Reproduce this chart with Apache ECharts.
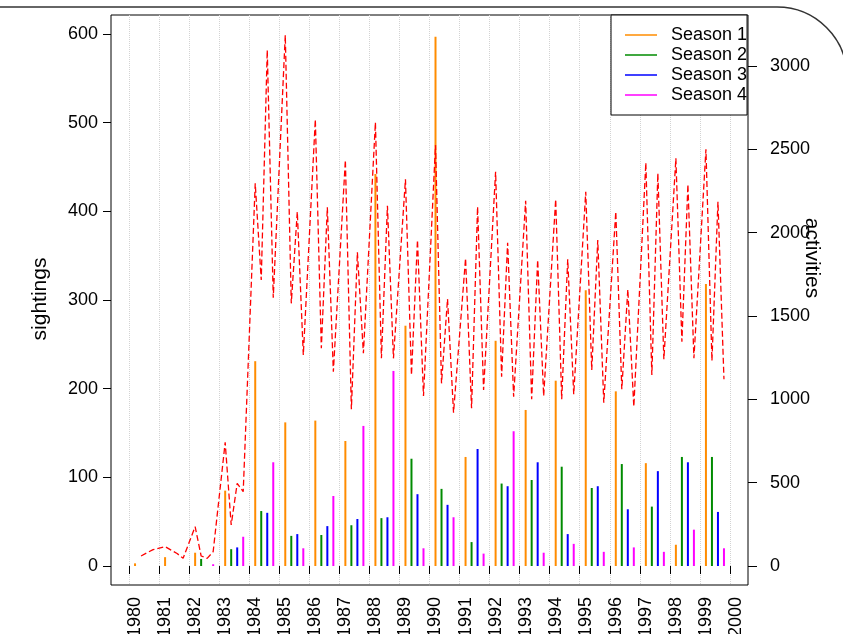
<!DOCTYPE html>
<html>
<head>
<meta charset="utf-8">
<script src="https://cdn.jsdelivr.net/npm/echarts@6/dist/echarts.min.js"></script>
<style>
  html, body { margin: 0; padding: 0; background: #fff; }
  #chart { width: 843px; height: 634px; }
</style>
</head>
<body>
<div id="chart"></div>
<script>
// Years on the time axis and the offset of each season inside a year
const years = [1980,1981,1982,1983,1984,1985,1986,1987,1988,1989,
               1990,1991,1992,1993,1994,1995,1996,1997,1998,1999];
const yearTicks = [1980,1981,1982,1983,1984,1985,1986,1987,1988,1989,1990,
                   1991,1992,1993,1994,1995,1996,1997,1998,1999,2000];
const seasonOffsets = [0.2, 0.4, 0.6, 0.8];
const seasonNames = ['Season 1', 'Season 2', 'Season 3', 'Season 4'];

// Sightings per season, one value per year
const sightingsS1 = [3, 10, 15, 85, 231, 162, 164, 141, 442, 271,
                     597, 123, 254, 176, 209, 311, 197, 116, 24, 318];
const sightingsS2 = [0, 0, 8, 19, 62, 34, 35, 46, 54, 121,
                     87, 27, 93, 97, 112, 88, 115, 67, 123, 123];
const sightingsS3 = [0, 0, 0, 21, 60, 36, 45, 53, 55, 81,
                     69, 132, 90, 117, 36, 90, 64, 107, 117, 61];
const sightingsS4 = [0, 0, 2, 33, 117, 20, 79, 158, 220, 20,
                     55, 14, 152, 15, 25, 16, 21, 16, 41, 20];

// Activities per season (S1..S4 for each year)
const activities = [
  null, 60, 80, 98,
  116, 95, 75, 46,
  236, 60, 46, 86,
  742, 246, 496, 446,
  2296, 1716, 3096, 1610,
  3186, 1576, 2126, 1266,
  2680, 1306, 2152, 1166,
  2436, 940, 1882, 1276,
  2662, 1246, 2162, 1246,
  2320, 1146, 1956, 1020,
  2526, 1096, 1602, 920,
  1846, 946, 2156, 1056,
  2366, 1136, 1940, 1016,
  2192, 1000, 1836, 1020,
  2200, 1000, 1840, 1030,
  2246, 1176, 1956, 980,
  2126, 1060, 1660, 956,
  2420, 1146, 2356, 1240,
  2446, 1346, 2290, 1246,
  2500, 1232, 2186, 1120
];

const sightingTicks = [0, 100, 200, 300, 400, 500, 600];
const activityTicks = [0, 500, 1000, 1500, 2000, 2500, 3000];

const seasonColors = ['#FF8C00', '#008B00', '#0000FF', '#FF00FF'];
const FONT = '"Liberation Sans", Arial, Helvetica, sans-serif';

const sightingSeries = [sightingsS1, sightingsS2, sightingsS3, sightingsS4];

const series = sightingSeries.map((vals, s) => ({
  name: seasonNames[s],
  type: 'bar',
  xAxisIndex: 0,
  yAxisIndex: 0,
  barWidth: 2,
  barGap: '-100%',
  itemStyle: { color: seasonColors[s] },
  data: years.map((y, i) => [y + seasonOffsets[s], vals[i]])
}));

const activityData = [];
years.forEach((y, i) => {
  seasonOffsets.forEach((off, s) => {
    activityData.push([y + off, activities[i * 4 + s]]);
  });
});

series.push({
  name: 'activities',
  type: 'line',
  xAxisIndex: 0,
  yAxisIndex: 1,
  showSymbol: false,
  connectNulls: false,
  lineStyle: { color: '#FF0000', width: 1.3, type: [6, 3] },
  data: activityData,
  z: 4
});

const plain = v => String(v);

const chart = echarts.init(document.getElementById('chart'), null, { renderer: 'canvas' });

chart.setOption({
  animation: false,
  backgroundColor: '#fff',
  textStyle: { fontFamily: FONT, color: '#000' },
  grid: {
    left: 111, top: 15, right: 95, bottom: 49,
    outerBoundsMode: 'none',
    containLabel: false,
    show: true, borderColor: '#000', borderWidth: 1, backgroundColor: 'transparent'
  },
  xAxis: {
    type: 'value',
    min: 1979.4, max: 2000.6,
    axisLine: { show: false },
    axisTick: { show: true, length: 8, customValues: yearTicks, lineStyle: { color: '#000' } },
    axisLabel: {
      customValues: yearTicks, rotate: 90, margin: 12,
      fontSize: 18, fontFamily: FONT, color: '#000',
      verticalAlign: 'top', lineHeight: 12,
      formatter: plain
    },
    splitLine: { show: true, lineStyle: { color: '#d3d3d3', type: 'dotted', width: 1 } }
  },
  yAxis: [
    {
      type: 'value',
      position: 'left',
      min: -21.4, max: 621.4,
      axisLine: { show: false },
      axisTick: { show: true, length: 8, customValues: sightingTicks, lineStyle: { color: '#000' } },
      axisLabel: { customValues: sightingTicks, margin: 13, fontSize: 18, fontFamily: FONT, color: '#000', formatter: plain },
      splitLine: { show: false }
    },
    {
      type: 'value',
      position: 'right',
      min: -114, max: 3306,
      axisLine: { show: false },
      axisTick: { show: true, length: 9, customValues: activityTicks, lineStyle: { color: '#000' } },
      axisLabel: { customValues: activityTicks, margin: 22, fontSize: 18, fontFamily: FONT, color: '#000', formatter: plain },
      splitLine: { show: false }
    }
  ],
  legend: {
    orient: 'vertical',
    left: 611, top: 15,
    padding: [10, 0, 10, 14],
    itemGap: 0,
    itemWidth: 32, itemHeight: 1.5,
    icon: 'rect',
    backgroundColor: '#fff',
    borderColor: '#000', borderWidth: 1,
    data: seasonNames,
    textStyle: { fontSize: 18, fontFamily: FONT, color: '#000', lineHeight: 20, padding: [0, 0, 0, 9] },
    selectedMode: false,
    z: 10
  },
  graphic: [
    {
      type: 'text', x: 40, y: 299, rotation: Math.PI / 2,
      style: { text: 'sightings', font: '21px ' + FONT, fill: '#000', textAlign: 'center', textVerticalAlign: 'middle' }
    },
    {
      type: 'text', x: 812, y: 258, rotation: -Math.PI / 2,
      style: { text: 'activities', font: '21px ' + FONT, fill: '#000', textAlign: 'center', textVerticalAlign: 'middle' }
    },
    {
      type: 'line', silent: true,
      shape: { x1: 0, y1: 7, x2: 777, y2: 7 },
      style: { stroke: '#333', lineWidth: 1.5 }
    },
    {
      type: 'arc', silent: true,
      shape: { cx: 777, cy: 77, r: 70, startAngle: -Math.PI / 2, endAngle: 0, clockwise: true },
      style: { stroke: '#333', lineWidth: 1.5, fill: 'none' }
    }
  ],
  series: series
});
</script>
</body>
</html>
